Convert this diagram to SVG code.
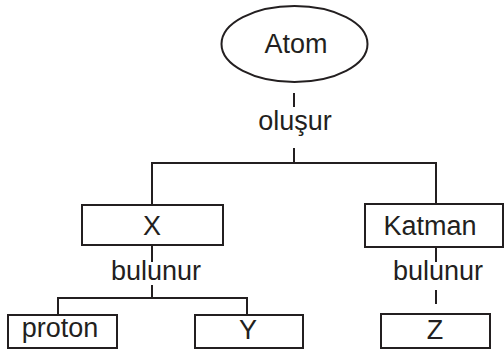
<svg xmlns="http://www.w3.org/2000/svg" width="504" height="353" viewBox="0 0 504 353">
<style>
.s{fill:#fff;stroke:#231f20;stroke-width:2}
.l{fill:none;stroke:#231f20;stroke-width:2}
text{font-family:"Liberation Sans",Arial,sans-serif;font-size:27px;fill:#231f20;text-anchor:middle}
</style>
<rect width="504" height="353" fill="#fff"/>
<g id="connectors">
<line class="l" x1="294" y1="93" x2="294" y2="107"/>
<line class="l" x1="294" y1="148" x2="294" y2="164"/>
<polyline class="l" points="152,205 152,163 436,163 436,205"/>
<line class="l" x1="152" y1="245" x2="152" y2="262"/>
<line class="l" x1="152" y1="285" x2="152" y2="298"/>
<polyline class="l" points="58,315 58,298 247,298 247,315"/>
<line class="l" x1="436" y1="247" x2="436" y2="262"/>
<line class="l" x1="436" y1="290" x2="436" y2="304"/>
<text x="295" y="130">oluşur</text>
<text x="156" y="280">bulunur</text>
<text x="438" y="280">bulunur</text>
</g>
<g id="atom"><ellipse class="s" cx="294.5" cy="44" rx="73" ry="38"/><text x="296" y="53">Atom</text></g>
<g id="x"><rect class="s" x="82" y="205" width="141" height="40"/><text x="152" y="235">X</text></g>
<g id="katman"><rect class="s" x="365" y="204" width="138" height="43"/><text x="430" y="235">Katman</text></g>
<g id="proton"><rect class="s" x="8" y="315" width="109" height="33"/><text x="60" y="337">proton</text></g>
<g id="y"><rect class="s" x="195" y="315" width="108" height="33"/><text x="248" y="339">Y</text></g>
<g id="z"><rect class="s" x="381" y="314" width="109" height="34"/><text x="435" y="339">Z</text></g>
</svg>
